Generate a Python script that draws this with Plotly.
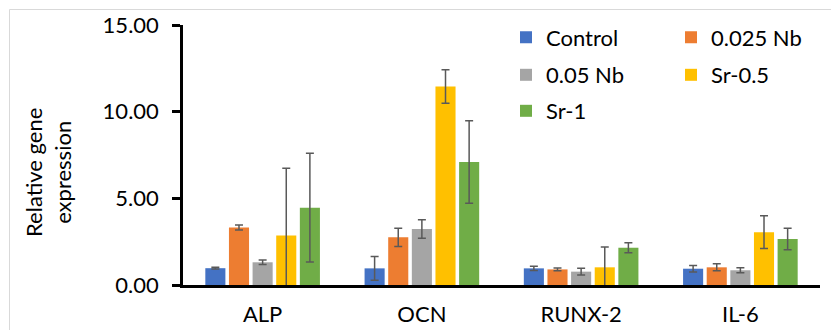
import plotly.graph_objects as go

genes = ["ALP", "OCN", "RUNX-2", "IL-6"]
series_names = ["Control", "0.025 Nb", "0.05 Nb", "Sr-0.5", "Sr-1"]
colors = ["#4472C4", "#ED7D31", "#A5A5A5", "#FFC000", "#70AD47"]

control = [0.97, 0.96, 0.96, 0.94]
nb_025 = [3.32, 2.75, 0.90, 1.02]
nb_05 = [1.31, 3.23, 0.77, 0.85]
sr_05 = [2.86, 11.45, 1.02, 3.05]
sr_1 = [4.46, 7.09, 2.15, 2.65]

control_err = [0.05, 0.68, 0.12, 0.19]
nb_025_err = [0.14, 0.53, 0.08, 0.20]
nb_05_err = [0.13, 0.54, 0.20, 0.14]
sr_05_err = [3.88, 0.97, 1.17, 0.95]
sr_1_err = [3.14, 2.38, 0.29, 0.62]

values = [control, nb_025, nb_05, sr_05, sr_1]
errors = [control_err, nb_025_err, nb_05_err, sr_05_err, sr_1_err]

y_ticks = [0, 5, 10, 15]

FONT = "Lato"
W, H = 831, 330
ML, MR, MT, MB = 183, 11, 25, 45
PW, PH = W - ML - MR, H - MT - MB


def px_x(p):
    return (p - ML) / PW


def px_y(p):
    return (H - MB - p) / PH


legend_pos = [(506, 37.5), (671, 37.5), (506, 75), (671, 75), (506, 111)]

fig = go.Figure()
for i, (name, vals, errs, col) in enumerate(zip(series_names, values, errors, colors)):
    lg = "legend" if i == 0 else f"legend{i+1}"
    fig.add_trace(go.Bar(
        x=genes, y=vals, name=name, marker_color=col,
        marker_line_width=0, showlegend=True,
        error_y=dict(type="data", array=errs, color="#595959", thickness=1.5, width=4),
        legend=lg,
    ))

layout_legends = {}
for i, (lx, ly) in enumerate(legend_pos):
    key = "legend" if i == 0 else f"legend{i+1}"
    layout_legends[key] = dict(
        x=px_x(lx), y=px_y(ly), xanchor="left", yanchor="middle",
        font=dict(family=FONT, size=22, color="#000000"),
        bgcolor="rgba(0,0,0,0)", borderwidth=0,
    )

fig.update_layout(
    width=W, height=H, showlegend=True,
    margin=dict(l=ML, r=MR, t=MT, b=MB, pad=0, autoexpand=False),
    paper_bgcolor="white", plot_bgcolor="white",
    barmode="group", bargap=0.258, bargroupgap=0.15,
    font=dict(family=FONT, color="#000000"),
    **layout_legends,
)

fig.update_yaxes(
    range=[0, 15], tickvals=y_ticks, tickformat=".2f",
    showgrid=False, zeroline=False, automargin=False,
    showline=True, linecolor="black", linewidth=2.5,
    ticks="outside", ticklen=8, tickwidth=2.5, tickcolor="black",
    tickfont=dict(family=FONT, size=22, color="#000000"),
    ticklabelstandoff=9,
)
fig.update_xaxes(
    showgrid=False, zeroline=False, automargin=False,
    showline=True, linecolor="black", linewidth=2.5,
    ticks="", tickfont=dict(family=FONT, size=22, color="#000000"),
    ticklabelstandoff=8,
)

fig.add_annotation(
    text="Relative gene<br>expression", textangle=-90,
    xref="paper", yref="paper", x=px_x(48), y=px_y(173),
    xanchor="center", yanchor="middle", showarrow=False,
    font=dict(family=FONT, size=22, color="#000000"),
)

frame_col = "#d9d9d9"
fig.add_shape(type="line", xref="paper", yref="paper",
              x0=px_x(9.5), x1=px_x(W + 5), y0=px_y(9.5), y1=px_y(9.5),
              line=dict(color=frame_col, width=1), layer="below")
fig.add_shape(type="line", xref="paper", yref="paper",
              x0=px_x(9.5), x1=px_x(9.5), y0=px_y(9.5), y1=px_y(H + 5),
              line=dict(color=frame_col, width=1), layer="below")

fig.write_html("out.html")
